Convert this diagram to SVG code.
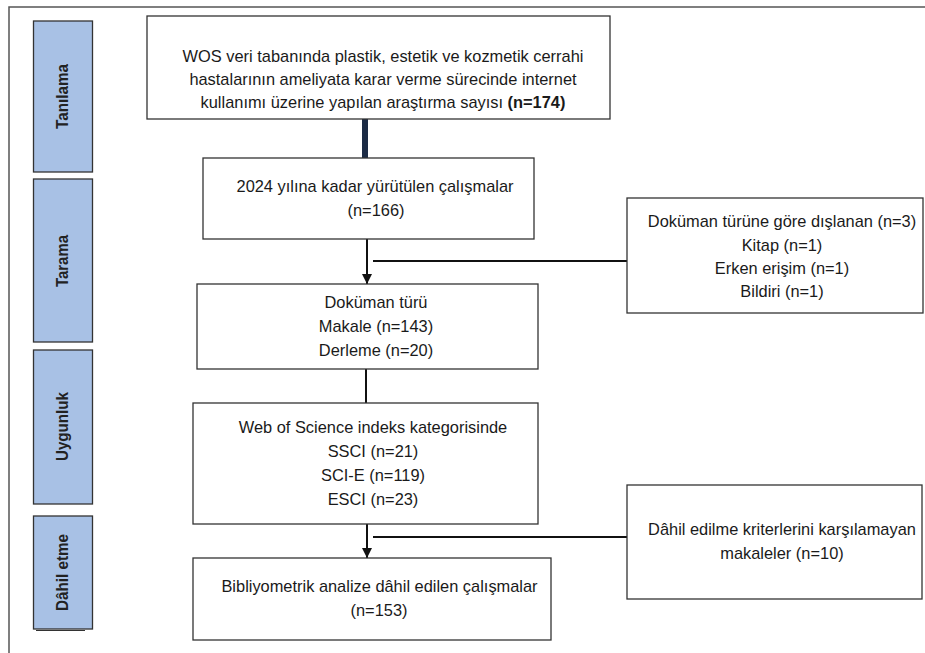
<svg xmlns="http://www.w3.org/2000/svg" width="925" height="653" viewBox="0 0 925 653">
<style>
.frame{fill:none;stroke:#555;stroke-width:1.5}
.side{fill:#a8c1e5;stroke:#333;stroke-width:1.3}
.sidet{font-family:"Liberation Sans",Arial,sans-serif;font-size:16px;font-weight:bold;fill:#222;text-anchor:middle}
.box{fill:#fff;stroke:#333;stroke-width:1.3}
.t{font-family:"Liberation Sans",Arial,sans-serif;font-size:16.4px;fill:#1a1a1a;text-anchor:middle}
.ln{stroke:#111;stroke-width:2;fill:none}
</style>
<defs>
<marker id="ah" viewBox="0 0 10 10" refX="10" refY="5" markerWidth="5" markerHeight="5" markerUnits="strokeWidth" orient="auto">
<path d="M0,0 L10,5 L0,10 z" fill="#111"/>
</marker>
</defs>
<rect width="925" height="653" fill="#fff"/>
<path class="frame" d="M9,660 L9,7 L930,7"/>

<g id="side-tanilama"><rect class="side" x="33.5" y="21" width="59" height="151"/><text class="sidet" transform="translate(68,96.5) rotate(-90)" textLength="65" lengthAdjust="spacingAndGlyphs">Tanılama</text></g>
<g id="side-tarama"><rect class="side" x="33.5" y="179" width="59" height="163"/><text class="sidet" transform="translate(68,261) rotate(-90)" textLength="52" lengthAdjust="spacingAndGlyphs">Tarama</text></g>
<g id="side-uygunluk"><rect class="side" x="33.5" y="350" width="59" height="154"/><text class="sidet" transform="translate(68,426.5) rotate(-90)" textLength="69" lengthAdjust="spacingAndGlyphs">Uygunluk</text></g>
<g id="side-dahil"><rect class="side" x="33.5" y="516" width="59" height="113"/><line x1="36" y1="630.5" x2="85" y2="630.5" stroke="#333" stroke-width="1.2"/><text class="sidet" transform="translate(68,572.5) rotate(-90)" textLength="77" lengthAdjust="spacingAndGlyphs">Dâhil etme</text></g>

<g id="connectors">
<rect x="362" y="119" width="6" height="39" fill="#1c2b45"/>
<line class="ln" x1="367" y1="239" x2="367" y2="284" marker-end="url(#ah)"/>
<line class="ln" x1="373" y1="261" x2="627" y2="261"/>
<line class="ln" x1="366" y1="369" x2="366" y2="403"/>
<line class="ln" x1="367" y1="524" x2="367" y2="558" marker-end="url(#ah)"/>
<line class="ln" x1="373" y1="537" x2="627" y2="537"/>
</g>

<g id="n-wos"><rect class="box" x="147" y="16" width="463" height="103"/>
<text class="t" x="383" y="62">WOS veri tabanında plastik, estetik ve kozmetik cerrahi</text>
<text class="t" x="383" y="85">hastalarının ameliyata karar verme sürecinde internet</text>
<text class="t" x="383" y="108">kullanımı üzerine yapılan araştırma sayısı <tspan font-weight="bold">(n=174)</tspan></text></g>

<g id="n-2024"><rect class="box" x="203" y="158" width="331" height="81"/>
<text class="t" x="375" y="192">2024 yılına kadar yürütülen çalışmalar</text>
<text class="t" x="376" y="216">(n=166)</text></g>

<g id="n-dokuman"><rect class="box" x="197" y="284" width="341" height="85"/>
<text class="t" x="376" y="308">Doküman türü</text>
<text class="t" x="376" y="332">Makale (n=143)</text>
<text class="t" x="376" y="356">Derleme (n=20)</text></g>

<g id="n-wosidx"><rect class="box" x="193" y="403" width="345" height="121"/>
<text class="t" x="373" y="433">Web of Science indeks kategorisinde</text>
<text class="t" x="373" y="457">SSCI (n=21)</text>
<text class="t" x="373" y="481">SCI-E (n=119)</text>
<text class="t" x="373" y="505">ESCI (n=23)</text></g>

<g id="n-biblio"><rect class="box" x="193" y="558" width="358" height="82"/>
<text class="t" x="379.5" y="592">Bibliyometrik analize dâhil edilen çalışmalar</text>
<text class="t" x="379" y="616">(n=153)</text></g>

<g id="n-excl1"><rect class="box" x="627" y="198" width="296" height="115"/>
<text class="t" x="782" y="227">Doküman türüne göre dışlanan (n=3)</text>
<text class="t" x="782" y="251">Kitap (n=1)</text>
<text class="t" x="782" y="274">Erken erişim (n=1)</text>
<text class="t" x="782" y="297">Bildiri (n=1)</text></g>

<g id="n-excl2"><rect class="box" x="627" y="485" width="295" height="114"/>
<text class="t" x="782" y="535">Dâhil edilme kriterlerini karşılamayan</text>
<text class="t" x="782" y="559">makaleler (n=10)</text></g>
</svg>
